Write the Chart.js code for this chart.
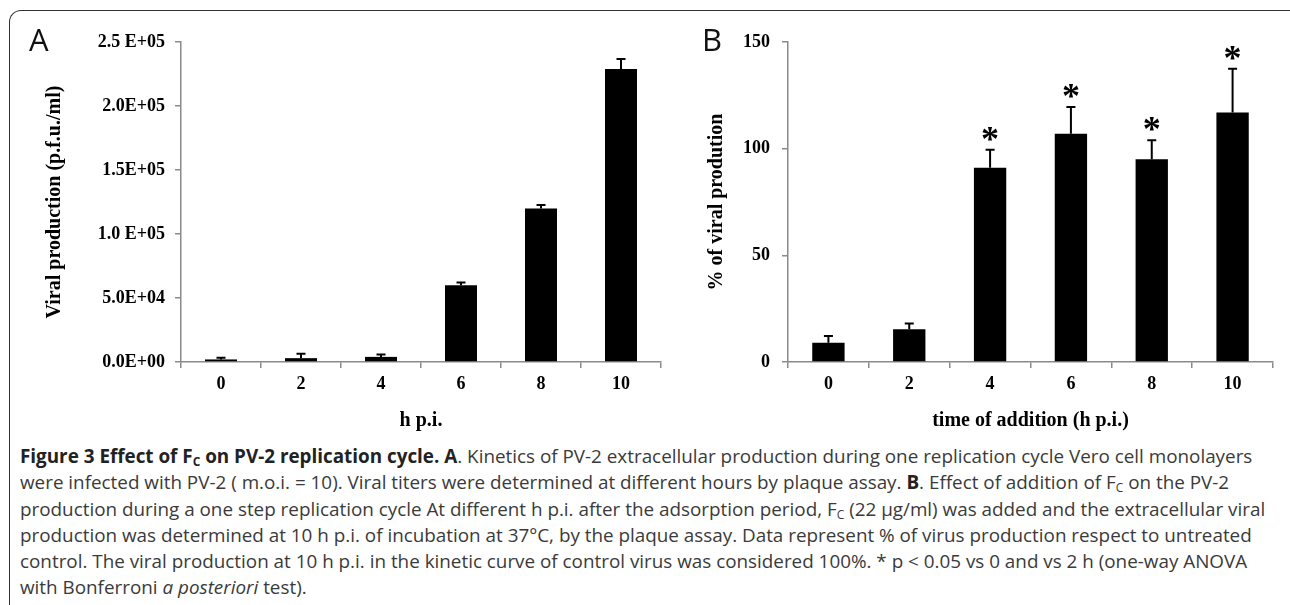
<!DOCTYPE html>
<html>
<head>
<meta charset="utf-8">
<script src="https://cdn.jsdelivr.net/npm/chart.js@4"></script>
<style>
  body { margin: 0; background: #fff; width: 1290px; height: 605px; overflow: hidden; position: relative; }
  .frame { position: absolute; left: 9px; top: 10px; width: 1290px; height: 600px;
    border: 1.5px solid #333; border-bottom: none; border-radius: 12px 12px 0 0; }
  .panel { position: absolute; top: 0; height: 440px; }
  .letter { position: absolute; top: 18px; font: 31px "Open Sans", sans-serif; color: #111; }
  .caption { position: absolute; left: 20px; top: 443px; font: 18.85px "Open Sans", sans-serif;
    color: #3a3a3a; line-height: 26.3px; white-space: nowrap; }
  .caption b { color: #222; }
  sub { font-size: 12px; vertical-align: -3px; line-height: 0; }
</style>
</head>
<body>
<div class="frame"></div>
<div class="panel" style="left:0;width:680px"><canvas id="chartA"></canvas></div>
<div class="panel" style="left:680px;width:610px"><canvas id="chartB"></canvas></div>
<div class="letter" style="left:29px">A</div>
<div class="letter" style="left:702px">B</div>
<div class="caption">
<b>Figure 3 Effect of F<sub>C</sub> on PV-2 replication cycle. A</b>. Kinetics of PV-2 extracellular production during one replication cycle Vero cell monolayers<br>
were infected with PV-2 ( m.o.i. = 10). Viral titers were determined at different hours by plaque assay. <b>B</b>. Effect of addition of F<sub>C</sub> on the PV-2<br>
production during a one step replication cycle At different h p.i. after the adsorption period, F<sub>C</sub> (22 µg/ml) was added and the extracellular viral<br>
production was determined at 10 h p.i. of incubation at 37°C, by the plaque assay. Data represent % of virus production respect to untreated<br>
control. The viral production at 10 h p.i. in the kinetic curve of control virus was considered 100%. * p &lt; 0.05 vs 0 and vs 2 h (one-way ANOVA<br>
with Bonferroni <i>a posteriori</i> test).
</div>
<script>
// data
const hours = ["0", "2", "4", "6", "8", "10"];
const kineticMeans = [2000, 3000, 4000, 60000, 120000, 229000];
const kineticErrors = [1300, 3500, 1800, 2200, 2700, 7800];
const additionMeans = [9, 15.3, 91, 107, 95, 117];
const additionErrors = [3.2, 2.8, 8.5, 12.5, 9, 20.5];
const significant = [false, false, true, true, true, true];
const kineticTicks = ["0.0E+00", "5.0E+04", "1.0 E+05", "1.5E+05", "2.0E+05", "2.5 E+05"];

const serif = "'Liberation Serif', 'Times New Roman', serif";
const axisGrey = "#8a8a8a";

// upper error bars + optional asterisks
const errorBars = {
  id: "errorBars",
  afterDatasetsDraw(chart, args, opts) {
    const ctx = chart.ctx;
    const y = chart.scales.y;
    const meta = chart.getDatasetMeta(0);
    ctx.save();
    ctx.strokeStyle = "#000";
    ctx.lineWidth = 2;
    meta.data.forEach((bar, i) => {
      const top = y.getPixelForValue(opts.means[i] + opts.errors[i]);
      ctx.beginPath();
      ctx.moveTo(bar.x, bar.y);
      ctx.lineTo(bar.x, top);
      ctx.moveTo(bar.x - 4.5, top);
      ctx.lineTo(bar.x + 4.5, top);
      ctx.stroke();
      if (opts.stars && opts.stars[i]) {
        ctx.fillStyle = "#000";
        ctx.font = "bold 36px " + serif;
        ctx.textAlign = "center";
        ctx.textBaseline = "alphabetic";
        ctx.fillText("*", bar.x, top + 1);
      }
    });
    ctx.restore();
  }
};

function makeChart(id, means, errors, stars, yOpts, yTitle, xTitle, yWidth, tickPad, titlePad) {
  return new Chart(document.getElementById(id), {
    type: "bar",
    data: {
      labels: hours,
      datasets: [{
        data: means,
        backgroundColor: "#000",
        borderColor: "#333",
        borderWidth: 0,
        categoryPercentage: 1,
        barPercentage: 0.4
      }]
    },
    options: {
      responsive: false,
      animation: false,
      layout: { padding: { top: 42, bottom: 7, left: 0, right: id === "chartA" ? 19 : 17 } },
      plugins: {
        legend: { display: false },
        tooltip: { enabled: false },
        errorBars: { means: means, errors: errors, stars: stars }
      },
      scales: {
        x: {
          grid: { drawOnChartArea: false, color: axisGrey, tickLength: 6, lineWidth: 1.5 },
          border: { color: axisGrey, width: 1.5 },
          ticks: { color: "#000", padding: 6, font: { family: serif, size: 18, weight: "bold" } },
          title: { display: true, text: xTitle, color: "#000", padding: 0,
            font: { family: serif, size: 20, weight: "bold" } },
          afterFit(s) { s.height = 71; }
        },
        y: Object.assign({
          grid: { drawOnChartArea: false, color: axisGrey, tickLength: 6, lineWidth: 1.5 },
          border: { color: axisGrey, width: 1.5 },
          title: { display: true, text: yTitle, color: "#000", padding: { top: titlePad, bottom: 0 },
            font: { family: serif, size: 20, weight: "bold" } },
          afterFit(s) { s.width = yWidth; }
        }, yOpts, {
          ticks: Object.assign({ color: "#000", padding: tickPad,
            font: { family: serif, size: 18, weight: "bold" } }, yOpts.ticks)
        })
      }
    },
    plugins: [errorBars]
  });
}

document.getElementById("chartA").width = 680;
document.getElementById("chartA").height = 440;
document.getElementById("chartB").width = 610;
document.getElementById("chartB").height = 440;

makeChart("chartA", kineticMeans, kineticErrors, null,
  { min: 0, max: 250000, ticks: { stepSize: 50000, callback: (v, i) => kineticTicks[i] } },
  "Viral production (p.f.u./ml)", "h p.i.", 181, 10, 43);

makeChart("chartB", additionMeans, additionErrors, significant,
  { min: 0, max: 150, ticks: { stepSize: 50 } },
  "% of viral prodution", "time of addition (h p.i.)", 108, 12, 25);
</script>
</body>
</html>
